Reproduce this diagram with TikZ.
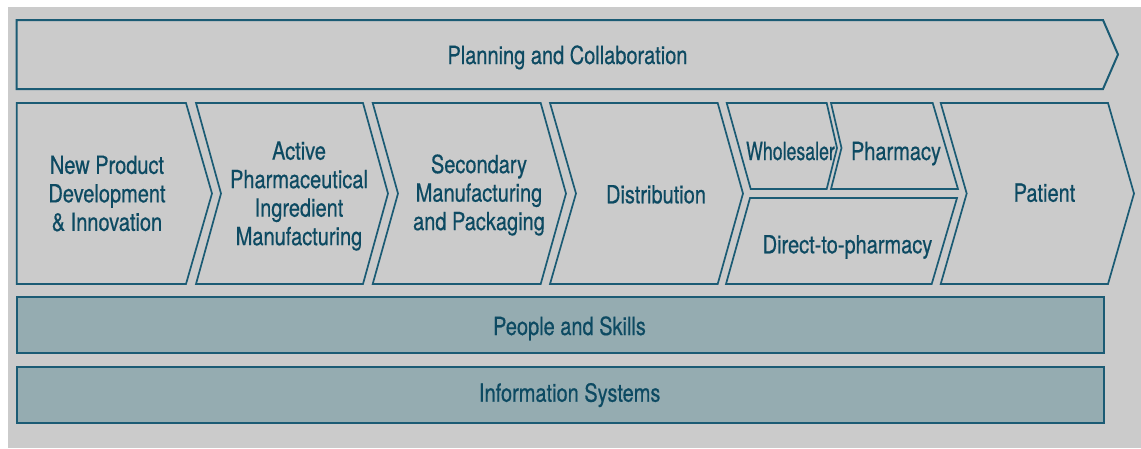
\documentclass[tikz,border=0pt]{standalone}
\usepackage{fontspec}
\setmainfont{TeX Gyre Heros}[FakeStretch=0.8,FakeBold=0.5]
\newfontfamily\narrowfont{TeX Gyre Heros}[FakeStretch=0.71,FakeBold=0.5]
\definecolor{bgC}{HTML}{CBCBCB}
\definecolor{lineC}{HTML}{1B5B74}
\definecolor{txtC}{HTML}{0D4A62}
\definecolor{barC}{HTML}{95ACB1}
\begin{document}
\begin{tikzpicture}[x=1pt,y=-1pt,
  shp/.style={draw=lineC, line width=1.7pt, line join=miter},
  barbox/.style={draw=lineC, fill=barC, line width=2pt},
  lbl/.style={text=txtC, font=\fontsize{25}{28.5}\selectfont, align=center, inner sep=0pt}]
\useasboundingbox (0,0) rectangle (1141,448);
\fill[white] (0,0) rectangle (1141,448);
\fill[bgC] (8,7) rectangle (1141,448);
% top banner
\draw[shp, line width=2pt] (16.7,20) -- (1103,20) -- (1118,54.5) -- (1103,89) -- (16.7,89) -- cycle;
% chevrons
\draw[shp] (16.7,103) -- (186,103) -- (212,193.5) -- (186,284) -- (16.7,284) -- cycle;
\draw[shp] (196,103) -- (363,103) -- (388,193.5) -- (363,284) -- (196,284) -- (221,193.5) -- cycle;
\draw[shp] (372.7,103) -- (540.7,103) -- (566,193.5) -- (540.7,284) -- (372.7,284) -- (398,193.5) -- cycle;
\draw[shp] (550,103) -- (717.7,103) -- (743,193.5) -- (717.7,284) -- (550,284) -- (576,193.5) -- cycle;
\draw[shp] (726.7,103) -- (826.7,103) -- (837,148) -- (826.7,189) -- (750.7,189) -- cycle;
\draw[shp] (831,103) -- (932.7,103) -- (958,189) -- (831,189) -- (841.5,148) -- cycle;
\draw[shp] (750,198) -- (957,198) -- (931.7,284) -- (726,284) -- cycle;
\draw[shp] (940.7,103) -- (1108,103) -- (1134,193.5) -- (1108,284) -- (940.7,284) -- (966.7,193.5) -- cycle;
% bars
\draw[barbox] (16.7,297) rectangle (1104,353);
\draw[barbox] (16.7,367) rectangle (1104,423);
% labels
\node[lbl, anchor=base] (plan) at (567.5,64) {Planning and Collaboration};
\node[lbl] (npd) at (107,193.5) {New Product\\Development\\\& Innovation};
\node[lbl] (api) at (299,196) {Active\\Pharmaceutical\\Ingredient\\Manufacturing};
\node[lbl] (sec) at (479,195) {Secondary\\Manufacturing\\and Packaging};
\node[lbl, anchor=base] (dist) at (656,203.3) {Distribution};
\node[lbl, anchor=base, font=\narrowfont\fontsize{25}{28.5}\selectfont] (whole) at (790.5,160) {Wholesaler};
\node[lbl, anchor=base] (pharm) at (896,160) {Pharmacy};
\node[lbl, anchor=base] (direct) at (847.5,253.3) {Direct-to-pharmacy};
\node[lbl, anchor=base] (patient) at (1044.5,201.7) {Patient};
\node[lbl, anchor=base] (people) at (569.5,335) {People and Skills};
\node[lbl, anchor=base] (info) at (569.7,401.7) {Information Systems};
\end{tikzpicture}
\end{document}
